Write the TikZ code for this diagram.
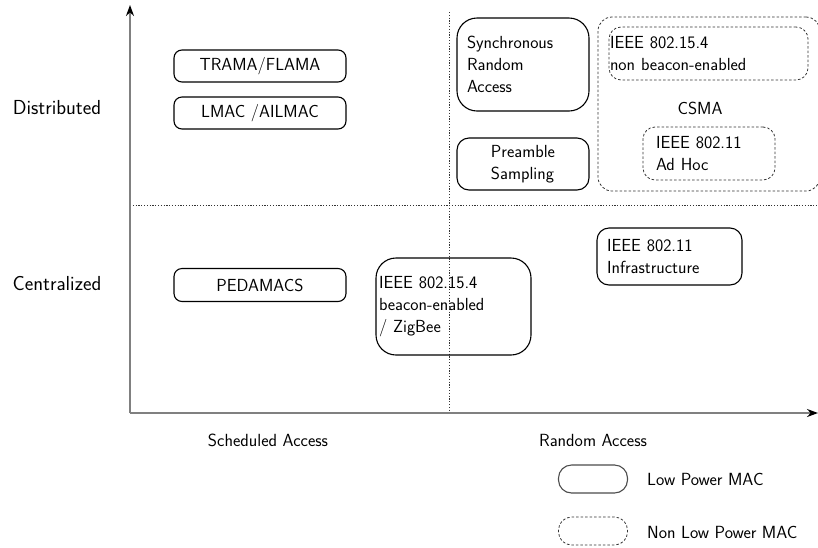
\documentclass[tikz,border=0pt]{standalone}
\usetikzlibrary{arrows.meta}
\begin{document}
\begin{tikzpicture}[x=1pt,y=-1pt,
  every node/.style={font=\fontsize{17.5}{22}\selectfont\sffamily},
  lp/.style={draw=black,line width=1.1pt,inner sep=0pt},
  nlp/.style={draw=black!80,line width=0.8pt,dash pattern=on 2.5pt off 2pt,inner sep=0pt},
  axis/.style={draw=black!50,line width=2pt,-{Stealth[length=11pt,width=8pt,black]}},
  grid/.style={draw=black!80,line width=0.8pt,dash pattern=on 1.2pt off 1.6pt},
  big/.style={font=\fontsize{20.3}{24}\selectfont\sffamily},
  small/.style={font=\fontsize{17.6}{22}\selectfont\sffamily}]
\useasboundingbox (0,0) rectangle (818,547);
% grid lines
\coordinate (hl) at (130,205);
\coordinate (hr) at (818,205);
\coordinate (vt) at (449,12);
\coordinate (vb) at (449,412);
\draw[grid] (hl) -- (hr);
\draw[grid] (vt) -- (vb);
% axes
\coordinate (o) at (130,413);
\coordinate (ytop) at (130,5);
\coordinate (xend) at (818,413);
\draw[axis] (o) -- (ytop);
\draw[axis] (o) -- (xend);
% axis labels
\node[big] (dist) at (57,108) {Distributed};
\node[big] (cent) at (57,284) {Centralized};
\node[small] (sched) at (268,440) {Scheduled Access};
\node[small] (rand) at (593,440) {Random Access};
% scheduled boxes
\node[lp,rounded corners=8pt,minimum width=172pt,minimum height=32pt] (trama) at (260,66) {TRAMA/FLAMA};
\node[lp,rounded corners=8pt,minimum width=172pt,minimum height=32pt] (lmac) at (260,113) {LMAC /AILMAC};
\node[lp,rounded corners=8pt,minimum width=172pt,minimum height=33pt] (peda) at (260,285) {PEDAMACS};
\node[lp,rounded corners=20pt,text width=149pt,inner xsep=3pt,align=left,minimum height=97pt] (beacon) at (453.5,306.5) {IEEE 802.15.4\\beacon-enabled\\/ ZigBee};
% random access
\node[lp,rounded corners=20pt,text width=112pt,inner xsep=10pt,align=left,minimum height=93pt] (sync) at (523,64.5) {Synchronous\\Random\\Access};
\node[lp,rounded corners=12pt,minimum width=132pt,minimum height=52pt,align=left] (pre) at (523,164) {Preamble\\Sampling};
\node[nlp,rounded corners=14pt,minimum width=222pt,minimum height=174pt] (csma) at (709,104) {};
\node (csmal) at (700,108) {CSMA};
\node[nlp,rounded corners=12pt,text width=197pt,inner xsep=1pt,align=left,minimum height=53pt] (nonb) at (708.5,53.5) {IEEE 802.15.4\\non beacon-enabled};
\node[nlp,rounded corners=12pt,text width=106pt,inner xsep=13pt,align=left,minimum height=53pt] (adhoc) at (709,153.5) {IEEE 802.11\\Ad Hoc};
\node[lp,rounded corners=12pt,text width=125pt,inner xsep=10pt,align=left,minimum height=57pt] (infra) at (669.5,256.5) {IEEE 802.11\\Infrastructure};
% legend
\node[lp,draw=black!70,rounded corners=13pt,minimum width=69pt,minimum height=28pt] (leg1) at (593,479) {};
\node[nlp,rounded corners=13pt,minimum width=69pt,minimum height=28pt] (leg2) at (593,531) {};
\node[small,anchor=west,inner sep=0pt] (leg1t) at (647,479) {Low Power MAC};
\node[small,anchor=west,inner sep=0pt] (leg2t) at (647,532) {Non Low Power MAC};
\end{tikzpicture}
\end{document}
